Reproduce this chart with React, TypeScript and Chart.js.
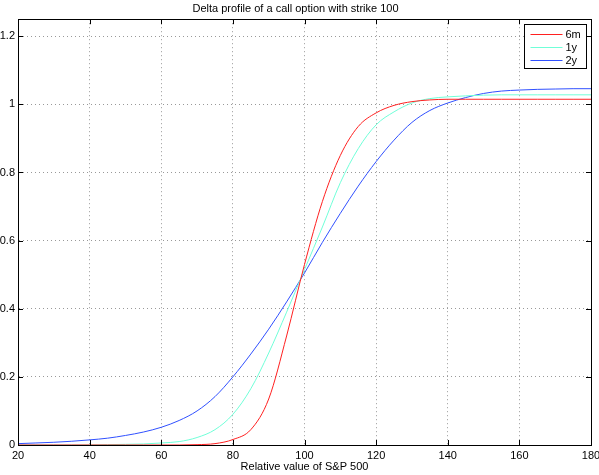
import React, { useEffect, useRef } from "react";
import { Chart, registerables } from "chart.js";

Chart.register(...registerables);

const xValues = [20, 25, 30, 35, 40, 45, 50, 55, 60, 65, 70, 75, 80, 85, 90, 95, 100, 105, 110, 115, 120, 125, 130, 135, 140, 145, 150, 155, 160, 165, 170, 175, 180];

const delta6m = [0, 0, 0, 0, 0, 0, 0, 0, 0, 0, 0.001, 0.004, 0.016, 0.045, 0.135, 0.32, 0.53, 0.715, 0.85, 0.935, 0.975, 0.997, 1.008, 1.013, 1.015, 1.015, 1.015, 1.015, 1.015, 1.015, 1.015, 1.015, 1.015];

const delta1y = [0, 0, 0, 0, 0, 0.001, 0.002, 0.003, 0.006, 0.01, 0.022, 0.045, 0.09, 0.165, 0.27, 0.39, 0.515, 0.64, 0.77, 0.87, 0.94, 0.978, 1.004, 1.017, 1.022, 1.025, 1.027, 1.028, 1.028, 1.028, 1.028, 1.028, 1.028];

const delta2y = [0.004, 0.006, 0.008, 0.011, 0.015, 0.02, 0.028, 0.038, 0.052, 0.072, 0.1, 0.142, 0.2, 0.267, 0.34, 0.42, 0.505, 0.595, 0.68, 0.76, 0.832, 0.895, 0.947, 0.982, 1.004, 1.02, 1.032, 1.039, 1.042, 1.044, 1.045, 1.046, 1.046];

const seriesLabels = ["6m", "1y", "2y"];
const seriesColors = ["#ff2020", "#70ffd8", "#3050ff"];

const chartTitle = "Delta profile of a call option with strike 100";
const xAxisTitle = "Relative value of S&P 500";

const FONT = "'Liberation Sans', Arial, Helvetica, sans-serif";

const boxPlugin = {
  id: "boxPlugin",
  afterDraw(chart: any) {
    const { ctx, chartArea } = chart;
    const xs = chart.scales.x;
    const ys = chart.scales.y;
    const { left, right, top, bottom } = chartArea;
    ctx.save();
    ctx.strokeStyle = "#000";
    ctx.lineWidth = 1;
    const tl = 5;
    ctx.beginPath();
    xs.ticks.forEach((t: any) => {
      const px = Math.round(xs.getPixelForValue(t.value)) + 0.5;
      ctx.moveTo(px, bottom);
      ctx.lineTo(px, bottom - tl);
      ctx.moveTo(px, top);
      ctx.lineTo(px, top + tl);
    });
    ys.ticks.forEach((t: any) => {
      const py = Math.round(ys.getPixelForValue(t.value)) + 0.5;
      ctx.moveTo(left, py);
      ctx.lineTo(left + tl, py);
      ctx.moveTo(right, py);
      ctx.lineTo(right - tl, py);
    });
    ctx.stroke();
    ctx.strokeRect(Math.round(left) + 0.5, Math.round(top) + 0.5, Math.round(right - left), Math.round(bottom - top));

    const bw = 62;
    const bh = 44;
    const bx = Math.round(right) - 5 - bw + 0.5;
    const by = Math.round(top) + 5 + 0.5;
    ctx.fillStyle = "#fff";
    ctx.fillRect(bx, by, bw, bh);
    ctx.strokeStyle = "#000";
    ctx.strokeRect(bx, by, bw, bh);
    ctx.font = `11px ${FONT}`;
    ctx.textBaseline = "middle";
    ctx.textAlign = "left";
    chart.data.datasets.forEach((ds: any, i: number) => {
      const ry = Math.round(by + 9 + i * 13.4) + 0.5;
      ctx.strokeStyle = ds.borderColor;
      ctx.lineWidth = 1;
      ctx.beginPath();
      ctx.moveTo(bx + 6, ry);
      ctx.lineTo(bx + 38, ry);
      ctx.stroke();
      ctx.fillStyle = "#000";
      ctx.fillText(ds.label, bx + 41, ry);
    });
    ctx.restore();
  },
};

export default function App() {
  const canvasRef = useRef<HTMLCanvasElement | null>(null);

  useEffect(() => {
    if (!canvasRef.current) return;
    const datasets = [delta6m, delta1y, delta2y].map((arr, i) => ({
      label: seriesLabels[i],
      data: xValues.map((x, j) => ({ x, y: arr[j] })),
      borderColor: seriesColors[i],
      backgroundColor: seriesColors[i],
      borderWidth: 1,
      pointRadius: 0,
      fill: false,
      cubicInterpolationMode: "monotone" as const,
    }));
    const chart = new Chart(canvasRef.current, {
      type: "line",
      data: { datasets },
      options: {
        animation: false,
        responsive: false,
        maintainAspectRatio: false,
        layout: { padding: { left: 0, right: 8, top: 0, bottom: 0 } },
        plugins: {
          legend: { display: false },
          tooltip: { enabled: false },
          title: {
            display: true,
            text: chartTitle,
            color: "#000",
            font: { family: FONT, size: 11, weight: "normal" },
            padding: { top: 2, bottom: 4 },
          },
        },
        scales: {
          x: {
            type: "linear",
            min: 20,
            max: 180,
            ticks: {
              stepSize: 20,
              color: "#000",
              font: { family: FONT, size: 11 },
              padding: 4,
              maxRotation: 0,
              autoSkip: false,
            },
            grid: { color: "#999", lineWidth: 1, drawTicks: false },
            border: { display: true, color: "#000", dash: [1, 3] },
            title: {
              display: true,
              text: xAxisTitle,
              color: "#000",
              font: { family: FONT, size: 11 },
              padding: { top: 0, bottom: 1 },
            },
            afterFit: (scale: any) => {
              scale.height = 30;
              scale.paddingLeft = 0;
              scale.paddingRight = 0;
            },
          },
          y: {
            type: "linear",
            min: 0,
            max: 1.25,
            ticks: {
              stepSize: 0.2,
              includeBounds: false,
              color: "#000",
              font: { family: FONT, size: 11 },
              padding: 3,
              callback: (v: any) => String(Number(Number(v).toFixed(2))),
            },
            grid: { color: "#999", lineWidth: 1, drawTicks: false },
            border: { display: true, color: "#000", dash: [1, 3] },
            afterFit: (scale: any) => {
              scale.width = 18;
              scale.paddingTop = 0;
              scale.paddingBottom = 0;
            },
          },
        },
      },
      plugins: [boxPlugin],
    });
    return () => chart.destroy();
  }, []);

  return (
    <div style={{ position: "fixed", left: 0, top: 0, width: 599, height: 475, background: "#fff" }}>
      <canvas ref={canvasRef} width={599} height={475} />
    </div>
  );
}
